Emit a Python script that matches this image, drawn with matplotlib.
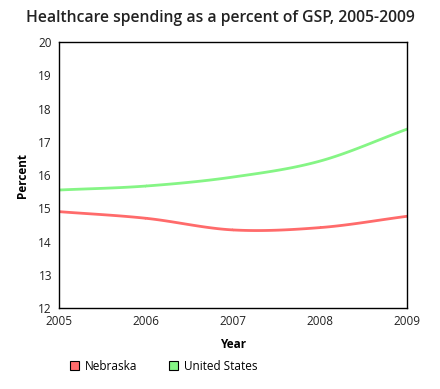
import numpy as np
import matplotlib
matplotlib.use("Agg")
import matplotlib.pyplot as plt
from matplotlib.patches import Patch

plt.rcParams['font.family'] = ['Open Sans', 'DejaVu Sans']

years = [2005, 2006, 2007, 2008, 2009]
nebraska = [14.9, 14.7, 14.35, 14.42, 14.76]
united_states = [15.55, 15.67, 15.94, 16.42, 17.38]


def smooth(x, y, n=30):
    # catmull-rom curve through the points, only for drawing
    x = np.asarray(x, float)
    y = np.asarray(y, float)
    px = np.concatenate([[2 * x[0] - x[1]], x, [2 * x[-1] - x[-2]]])
    py = np.concatenate([[2 * y[0] - y[1]], y, [2 * y[-1] - y[-2]]])
    xs, ys = [], []
    t = np.linspace(0, 1, n)
    for i in range(1, len(px) - 2):
        for p, out in ((px, xs), (py, ys)):
            p0, p1, p2, p3 = p[i - 1], p[i], p[i + 1], p[i + 2]
            out.extend(0.5 * (2 * p1 + (-p0 + p2) * t
                              + (2 * p0 - 5 * p1 + 4 * p2 - p3) * t ** 2
                              + (-p0 + 3 * p1 - 3 * p2 + p3) * t ** 3))
    return xs, ys


fig = plt.figure(figsize=(4.4, 3.89), dpi=100)
ax = fig.add_axes([0.134, 0.208, 0.791, 0.684])

red = '#ff6b6b'
green = '#85f585'
ax.plot(*smooth(years, nebraska), color=red, lw=2)
ax.plot(*smooth(years, united_states), color=green, lw=2)

ax.set_xlim(2005, 2009)
ax.set_ylim(12, 20)
ax.set_xticks(years)
ax.set_yticks(range(12, 21))
ax.tick_params(length=0, labelsize=8.5, pad=5, labelcolor='#222222')
for s in ax.spines.values():
    s.set_linewidth(1)
    s.set_color('black')

fig.text(0.502, 0.955, "Healthcare spending as a percent of GSP, 2005-2009",
         ha='center', va='center', fontsize=11.3, fontweight='semibold',
         color='#222222')
ax.set_xlabel("Year", fontsize=8.5, fontweight='bold', labelpad=7)
ax.set_ylabel("Percent", fontsize=8.5, fontweight='bold', labelpad=7)

handles = [Patch(facecolor=red, edgecolor='black', lw=0.8, label='Nebraska'),
           Patch(facecolor=green, edgecolor='black', lw=0.8, label='United States')]
fig.legend(handles=handles, loc='lower left', bbox_to_anchor=(0.135, 0.015),
           ncol=2, frameon=False, fontsize=8.5, handlelength=0.8,
           handleheight=0.8, handletextpad=0.5, columnspacing=2.6)

fig.savefig("out.png", dpi=100)
